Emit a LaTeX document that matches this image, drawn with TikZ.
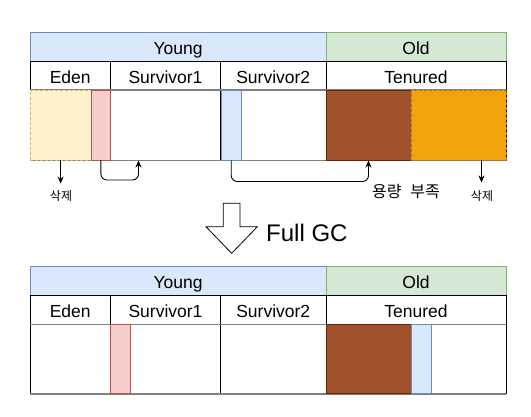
\documentclass[tikz,border=0pt]{standalone}
\usepackage{fontspec}
\setmainfont{Liberation Sans}
\newfontfamily\kr{Noto Sans CJK KR}
\usetikzlibrary{arrows.meta,calc}
\definecolor{youngF}{HTML}{DAE8FC}
\definecolor{youngS}{HTML}{6C8EBF}
\definecolor{oldF}{HTML}{D5E8D4}
\definecolor{oldS}{HTML}{82B366}
\definecolor{edenF}{HTML}{FFF2CC}
\definecolor{edenS}{HTML}{D6B656}
\definecolor{redF}{HTML}{F8CECC}
\definecolor{redS}{HTML}{B85450}
\definecolor{brownF}{HTML}{A0522D}
\definecolor{brownS}{HTML}{6D1F00}
\definecolor{orangeF}{HTML}{F0A30A}
\definecolor{orangeS}{HTML}{BD7000}
\definecolor{grayline}{HTML}{808080}
\tikzset{
  x=1pt,y=-1pt,
  cell/.style={draw=black,line width=0.9pt,inner sep=0pt,outer sep=0pt,anchor=north west,
    font=\fontsize{17.5}{20}\selectfont,text height=14.7pt,text depth=0pt},
  youngbox/.style={cell,fill=youngF,draw=youngS},
  oldbox/.style={cell,fill=oldF,draw=oldS},
  namebox/.style={cell,fill=white},
  lowbox/.style={cell,fill=white},
  blk/.style={inner sep=0pt,outer sep=0pt,anchor=north west,line width=0.9pt},
  edenblk/.style={blk,fill=edenF,draw=edenS,dashed,dash pattern=on 3pt off 2pt},
  redblk/.style={blk,fill=redF,draw=redS},
  blueblk/.style={blk,fill=youngF,draw=youngS},
  brownblk/.style={blk,fill=brownF,draw=brownS},
  orangeblk/.style={blk,fill=orangeF,draw=orangeS,dashed,dash pattern=on 3pt off 2pt},
  gline/.style={draw=grayline,line width=1.6pt},
  conn/.style={draw=black,line width=0.9pt,-{Stealth[length=7pt,width=6pt]},rounded corners=6pt},
  krsmall/.style={font=\kr\fontsize{12}{14}\selectfont},
  krbig/.style={font=\kr\fontsize{16}{18}\selectfont},
}
\begin{document}
\begin{tikzpicture}
\useasboundingbox[fill=white] (0,0) rectangle (531,417);
% ===== top diagram =====
\node[youngbox,minimum width=296pt,minimum height=28.5pt] (young1) at (30,32.5) {Young};
\node[oldbox,minimum width=180pt,minimum height=28.5pt] (old1) at (326,32.5) {Old};
\node[namebox,minimum width=80.5pt,minimum height=29.5pt] (eden1) at (30,61) {Eden};
\node[namebox,minimum width=110pt,minimum height=29.5pt] (sa1) at (110.5,61) {Survivor1};
\node[namebox,minimum width=105.5pt,minimum height=29.5pt] (sb1) at (220.5,61) {Survivor2};
\node[namebox,minimum width=180pt,minimum height=29.5pt] (ten1) at (326,61) {Tenured};
\node[lowbox,minimum width=80.5pt,minimum height=70.5pt] (edenlow1) at (30,90) {};
\node[lowbox,minimum width=110pt,minimum height=70.5pt] (salow1) at (110.5,90) {};
\node[lowbox,minimum width=105.5pt,minimum height=70.5pt] (sblow1) at (220.5,90) {};
\node[lowbox,minimum width=180pt,minimum height=70.5pt] (tenlow1) at (326,90) {};
\draw[gline] (edenlow1.north west) -- (tenlow1.north east);
\draw[gline] (edenlow1.south west) -- (tenlow1.south east);
\node[edenblk,minimum width=61.3pt,minimum height=70.5pt] (edenb) at (30,90) {};
\node[redblk,minimum width=19.2pt,minimum height=70.5pt] (redb) at (91.3,90) {};
\node[blueblk,minimum width=20.5pt,minimum height=70.5pt] (blueb) at (221,90) {};
\node[brownblk,minimum width=85pt,minimum height=70.5pt] (brownb) at (326,90) {};
\node[orangeblk,minimum width=95pt,minimum height=70.5pt] (orangeb) at (411,90) {};
% connectors
\coordinate (edenend) at ($(edenb.south)+(0,23)$);
\draw[conn] (edenb.south) -- (edenend);
\node[krsmall] (del1) at (61,196) {삭제};
\draw[conn] (redb.south) -- ++(0,19.5) -| ($(salow1.south west)+(28,0)$);
\draw[conn] (blueb.south) -- ++(0,21) -| (brownb.south);
\node[krbig] (lack) at (406,191.5) {용량\hspace{9pt}부족};
\coordinate (orst) at ($(orangeb.south)+(23,0)$);
\coordinate (orend) at ($(orst)+(0,22)$);
\draw[conn] (orst) -- (orend);
\node[krsmall] (del2) at (482,196.5) {삭제};
% ===== Full GC arrow =====
\draw[line width=0.8pt,fill=white] (223.3,203.3) -- (240,203.3) -- (240,226.7) -- (257.3,226.7) -- (231.65,253.3) -- (206,226.7) -- (223.3,226.7) -- cycle;
\node[anchor=west,inner sep=0pt,font=\fontsize{24}{28}\selectfont] (fullgc) at (266,233) {Full GC};
% ===== bottom diagram =====
\node[youngbox,minimum width=296pt,minimum height=28.3pt] (young2) at (30,266.7) {Young};
\node[oldbox,minimum width=180pt,minimum height=28.3pt] (old2) at (326,266.7) {Old};
\node[namebox,minimum width=80.5pt,minimum height=29.7pt] (eden2) at (30,295) {Eden};
\node[namebox,minimum width=110pt,minimum height=29.7pt] (sa2) at (110.5,295) {Survivor1};
\node[namebox,minimum width=105.5pt,minimum height=29.7pt] (sb2) at (220.5,295) {Survivor2};
\node[namebox,minimum width=180pt,minimum height=29.7pt] (ten2) at (326,295) {Tenured};
\node[lowbox,minimum width=80.5pt,minimum height=69pt] (edenlow2) at (30,324.7) {};
\node[lowbox,minimum width=110pt,minimum height=69pt] (salow2) at (110.5,324.7) {};
\node[lowbox,minimum width=105.5pt,minimum height=69pt] (sblow2) at (220.5,324.7) {};
\node[lowbox,minimum width=180pt,minimum height=69pt] (tenlow2) at (326,324.7) {};
\draw[gline] (edenlow2.north west) -- (tenlow2.north east);
\draw[gline] (edenlow2.south west) -- (tenlow2.south east);
\node[redblk,minimum width=19.8pt,minimum height=69pt] (redb2) at (110.5,324.7) {};
\node[brownblk,minimum width=85.7pt,minimum height=69pt] (brownb2) at (326,324.7) {};
\node[blueblk,minimum width=19.6pt,minimum height=69pt] (blueb2) at (411.7,324.7) {};
\end{tikzpicture}
\end{document}
